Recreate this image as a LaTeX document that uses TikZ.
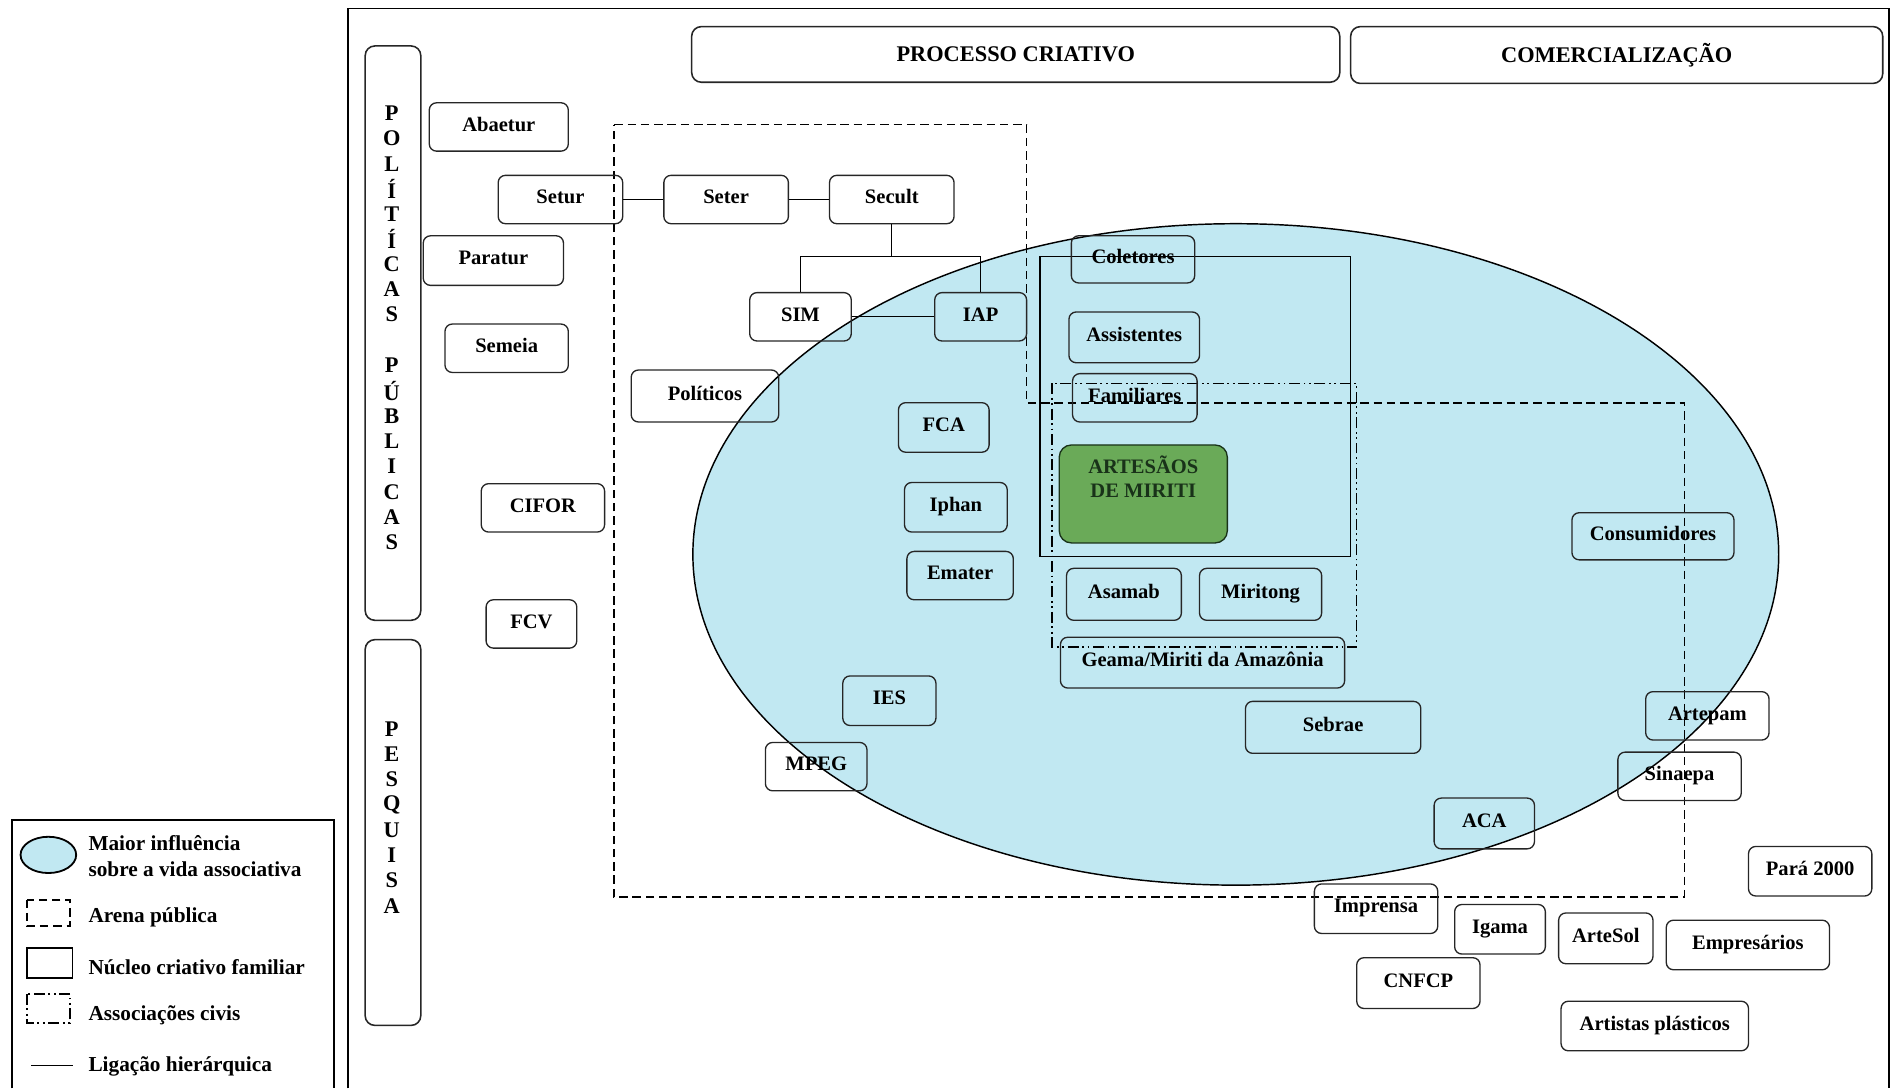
\documentclass[tikz,border=0pt]{standalone}
\usepackage{fontspec}
\setmainfont{Liberation Serif}
\definecolor{inflblue}{RGB}{193,232,242}
\definecolor{miritigreen}{RGB}{106,170,88}
\definecolor{miritidark}{RGB}{25,50,25}

\begin{document}
\begin{tikzpicture}[x=1pt, y=-1pt,
  every node/.style={font=\bfseries\fontsize{17}{20}\selectfont},
  box/.style={draw=black!85, line width=1.1pt, rounded corners=6pt, inner sep=0pt,
    text height=12pt, text depth=5pt},
  sz/.style 2 args={minimum width=#1, minimum height=#2},
  bar/.style={draw=black!85, line width=1.3pt, rounded corners=8pt},
  head/.style={font=\bfseries\fontsize{18.5}{22}\selectfont},
  legtext/.style={anchor=west, inner xsep=0pt, font=\bfseries\fontsize{17.6}{21}\selectfont},
  arena/.style={line width=1.4pt, dash pattern=on 7pt off 4pt},
  civis/.style={line width=1.2pt, dash pattern=on 9pt off 3pt on 1.5pt off 3pt on 1.5pt off 3pt},
  nucleo/.style={line width=1.2pt},
  link/.style={line width=1.1pt}]

\useasboundingbox (0,0) rectangle (1568,900);

% frame and legend frame
\draw[line width=1.5pt] (288,900) -- (288,7) -- (1562,7) -- (1562,900);
\draw[line width=1.5pt] (10,900) -- (10,678) -- (276,678) -- (276,900);

% influence area
\draw[fill=inflblue, line width=1.2pt] (1022,458.5) ellipse [x radius=449, y radius=273.5];

% arena, nucleo, associacoes
\draw[arena] (508,103) -- (849,103) -- (849,333) -- (1393,333) -- (1393,742) -- (508,742) -- cycle;
\draw[nucleo] (860,212) rectangle (1117,460);
\draw[civis] (870,317) rectangle (1122,535);

% headers
\node[bar, head, sz={536}{46}] (processo) at (840,45) {PROCESSO CRIATIVO};
\node[bar, head, sz={440}{47}] (comercial) at (1337,45.5) {COMERCIALIZAÇÃO};
\node[bar, sz={46}{475}] (politicas) at (325,275.5) {};
\node[bar, sz={46}{319}] (pesquisa) at (325,688.5) {};
\foreach \l [count=\i] in {P,O,L,Í,T,Í,C,A,S}
  \node[head] (pol\i) at (324,73.3+\i*20.7) {\l};
\foreach \l [count=\i] in {P,Ú,B,L,I,C,A,S}
  \node[head] (pub\i) at (324,281.3+\i*20.9) {\l};
\foreach \l [count=\i] in {P,E,S,Q,U,I,S,A}
  \node[head] (pes\i) at (324,582+\i*20.9) {\l};

% public actors
\node[box, sz={115}{40}] (abaetur) at (412.5,105) {Abaetur};
\node[box, sz={103}{40}] (setur) at (463.5,165) {Setur};
\node[box, sz={103}{40}] (seter) at (600.5,165) {Seter};
\node[box, sz={103}{40}] (secult) at (737.5,165) {Secult};
\node[box, sz={116}{41}] (paratur) at (408,215.5) {Paratur};
\node[box, sz={102}{40}] (semeia) at (419,288) {Semeia};
\node[box, sz={84}{40}] (sim) at (662,262) {SIM};
\node[box, sz={76}{40}] (iap) at (811,262) {IAP};
\node[box, sz={122}{43}] (politicos) at (583,327.5) {Políticos};
\node[box, sz={75}{41}] (fca) at (780.5,353.5) {FCA};
\node[box, sz={85}{41}] (iphan) at (790.5,419.5) {Iphan};
\node[box, sz={88}{40}] (emater) at (794,476) {Emater};
\node[box, sz={102}{40}] (cifor) at (449,420) {CIFOR};
\node[box, sz={75}{40}] (fcv) at (439.5,516) {FCV};
\node[box, sz={77}{41}] (ies) at (735.5,579.5) {IES};
\node[box, sz={84}{40}] (mpeg) at (675,634) {MPEG};

% creative core
\node[box, sz={102}{39}] (coletores) at (937,214.5) {Coletores};
\node[box, sz={108}{42}] (assistentes) at (938,279) {Assistentes};
\node[box, sz={103}{40}] (familiares) at (938.5,329) {Familiares};
\node[box, sz={139}{81}, rounded corners=10pt, fill=miritigreen, draw=miritidark,
  label={[anchor=north, align=center, inner sep=0pt, yshift=-9pt, text=miritidark]north:ARTESÃOS\\DE MIRITI}]
  (artesaos) at (945.5,408.5) {};
\node[box, sz={95}{43}] (asamab) at (929.5,491.5) {Asamab};
\node[box, sz={101}{43}] (miritong) at (1042.5,491.5) {Miritong};
\node[box, sz={235}{42}] (geama) at (994.5,548) {Geama/Miriti da Amazônia};

% market
\node[box, sz={134}{39}] (consumidores) at (1367,443.5) {Consumidores};
\node[box, sz={145}{43}] (sebrae) at (1102.5,601.5) {Sebrae};
\node[box, sz={102}{40}] (artepam) at (1412,592) {Artepam};
\node[box, sz={102}{40}] (sinaepa) at (1389,642) {Sinaepa};
\node[box, sz={83}{42}] (aca) at (1227.5,681) {ACA};
\node[box, sz={102}{41}] (para) at (1497,720.5) {Pará 2000};
\node[box, sz={102}{41}] (imprensa) at (1138,751.5) {Imprensa};
\node[box, sz={75}{41}] (igama) at (1240.5,768.5) {Igama};
\node[box, sz={78}{42}] (artesol) at (1328,776) {ArteSol};
\node[box, sz={135}{41}] (empresarios) at (1445.5,781.5) {Empresários};
\node[box, sz={102}{42}] (cnfcp) at (1173,813) {CNFCP};
\node[box, sz={155}{41}] (artistas) at (1368.5,848.5) {Artistas plásticos};

% hierarchy
\coordinate (fork) at (737.5,212);
\draw[link] (setur) -- (seter);
\draw[link] (seter) -- (secult);
\draw[link] (secult) -- (fork);
\draw[link] (sim) |- (fork) -| (iap);
\draw[link] (sim) -- (iap);

% legend
\draw[fill=inflblue, line width=1.5pt] (40,707) ellipse [x radius=23, y radius=15];
\node[legtext, align=left] (leginfl) at (73,708) {Maior influência\\sobre a vida associativa};
\draw[arena, line width=1.5pt] (22,744) rectangle (58,766);
\node[legtext] (legarena) at (73,759) {Arena pública};
\draw[line width=1.5pt] (22,784) rectangle (60,809);
\node[legtext] (legnucleo) at (73,800) {Núcleo criativo familiar};
\draw[civis, line width=1.5pt] (22,822) rectangle (58,846);
\node[legtext] (legcivis) at (73,840) {Associações civis};
\draw[line width=1.3pt] (26,881) -- (60,881);
\node[legtext] (leglink) at (73,882) {Ligação hierárquica};

\end{tikzpicture}
\end{document}
